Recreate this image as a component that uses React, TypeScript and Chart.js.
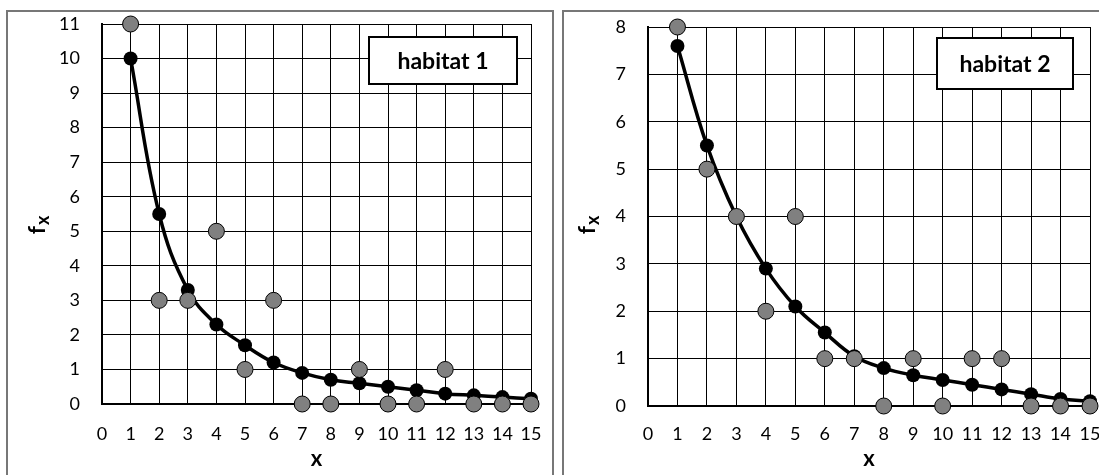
import React, { useEffect, useRef } from "react";
import { Chart, registerables } from "chart.js";

Chart.register(...registerables);

// ---------- data ----------
const xValues = [1, 2, 3, 4, 5, 6, 7, 8, 9, 10, 11, 12, 13, 14, 15];
const xTickLabels = ["0", "1", "2", "3", "4", "5", "6", "7", "8", "9", "10", "11", "12", "13", "14", "15"];

const habitat1Observed = [11, 3, 3, 5, 1, 3, 0, 0, 1, 0, 0, 1, 0, 0, 0];
const habitat1Fitted = [10, 5.5, 3.3, 2.3, 1.7, 1.2, 0.9, 0.7, 0.6, 0.5, 0.4, 0.3, 0.25, 0.2, 0.15];
const habitat1YMax = 11;

const habitat2Observed = [8, 5, 4, 2, 4, 1, 1, 0, 1, 0, 1, 1, 0, 0, 0];
const habitat2Fitted = [7.6, 5.5, 4.0, 2.9, 2.1, 1.55, 1.05, 0.8, 0.65, 0.55, 0.45, 0.35, 0.25, 0.15, 0.1];
const habitat2YMax = 8;

const panelLabels = ["habitat 1", "habitat 2"];
const xAxisTitle = "x";
const yAxisTitleMain = "f";
const yAxisTitleSub = "x";

const FONT = "Lato, 'Open Sans', sans-serif";

type PanelLayout = {
  left: number;
  top: number;
  width: number;
  height: number;
  yAxisWidth: number;
  xAxisHeight: number;
  padTop: number;
  padRight: number;
  xTickPad: number;
  yTickPad: number;
  box: { x: number; y: number; w: number; h: number };
  fx: { x: number; y: number };
};

const overlayPlugin = {
  id: "overlay",
  afterDraw(chart: any, _args: any, opts: any) {
    const ctx = chart.ctx as CanvasRenderingContext2D;
    ctx.save();
    const { x, y, w, h } = opts.box;
    ctx.fillStyle = "#fff";
    ctx.fillRect(x, y, w, h);
    ctx.lineWidth = 2;
    ctx.strokeStyle = "#000";
    ctx.strokeRect(x, y, w, h);
    ctx.fillStyle = "#000";
    ctx.font = `bold 23px ${FONT}`;
    ctx.textAlign = "center";
    ctx.textBaseline = "middle";
    ctx.fillText(opts.text, x + w / 2, y + h / 2 + 1);

    // y-axis title: f with subscript x, rotated
    ctx.translate(opts.fx.x, opts.fx.y);
    ctx.rotate(-Math.PI / 2);
    ctx.textAlign = "left";
    ctx.textBaseline = "alphabetic";
    ctx.font = `bold 23px ${FONT}`;
    const fw = ctx.measureText(opts.main).width;
    ctx.font = `bold 18px ${FONT}`;
    const sw = ctx.measureText(opts.sub).width;
    const start = -(fw + sw + 1) / 2;
    ctx.font = `bold 23px ${FONT}`;
    ctx.fillText(opts.main, start, 7);
    ctx.font = `bold 18px ${FONT}`;
    ctx.fillText(opts.sub, start + fw + 1, 11);
    ctx.restore();
  },
};

function Panel(props: {
  observed: number[];
  fitted: number[];
  yMax: number;
  label: string;
  layout: PanelLayout;
}) {
  const ref = useRef<HTMLCanvasElement | null>(null);
  const { observed, fitted, yMax, label, layout } = props;

  useEffect(() => {
    if (!ref.current) return;
    const tickFont = { family: FONT, size: 18 };
    const chart = new Chart(ref.current, {
      type: "scatter",
      data: {
        datasets: [
          {
            label: "observed",
            data: xValues.map((x, i) => ({ x, y: observed[i] })),
            backgroundColor: "#808080",
            borderColor: "#000",
            borderWidth: 1,
            pointRadius: 8,
            pointHoverRadius: 8,
            showLine: false,
            clip: false as any,
          },
          {
            label: "fitted",
            data: xValues.map((x, i) => ({ x, y: fitted[i] })),
            backgroundColor: "#000",
            borderColor: "#000",
            borderWidth: 3.5,
            pointRadius: 7,
            pointHoverRadius: 7,
            pointBorderWidth: 0,
            showLine: true,
            tension: 0.4,
            clip: false as any,
          },
        ],
      },
      options: {
        animation: false,
        responsive: false,
        events: [],
        layout: {
          padding: { left: 0, right: layout.padRight, top: layout.padTop, bottom: 0 },
        },
        plugins: {
          legend: { display: false },
          tooltip: { enabled: false },
          overlay: {
            box: layout.box,
            text: label,
            fx: layout.fx,
            main: yAxisTitleMain,
            sub: yAxisTitleSub,
          },
        } as any,
        scales: {
          x: {
            type: "linear",
            min: 0,
            max: 15,
            afterBuildTicks: (scale: any) => {
              scale.ticks = xTickLabels.map((t) => ({ value: Number(t) }));
            },
            ticks: {
              stepSize: 1,
              autoSkip: false,
              maxRotation: 0,
              padding: layout.xTickPad,
              color: "#000",
              font: tickFont,
              callback: (v: any) => String(v),
            },
            grid: { color: "#000", lineWidth: 1, drawTicks: false },
            border: { color: "#000", width: 2 },
            title: {
              display: true,
              text: xAxisTitle,
              color: "#000",
              font: { family: FONT, size: 22, weight: "bold" },
              padding: { top: 0, bottom: 3 },
            },
            afterFit: (scale: any) => {
              scale.height = layout.xAxisHeight;
              scale.paddingLeft = 0;
              scale.paddingRight = 0;
            },
          },
          y: {
            type: "linear",
            min: 0,
            max: yMax,
            ticks: {
              stepSize: 1,
              padding: layout.yTickPad,
              color: "#000",
              font: tickFont,
            },
            grid: { color: "#000", lineWidth: 1, drawTicks: false },
            border: { color: "#000", width: 2 },
            afterFit: (scale: any) => {
              scale.width = layout.yAxisWidth;
              scale.paddingTop = 0;
              scale.paddingBottom = 0;
            },
          },
        },
      },
      plugins: [overlayPlugin],
    } as any);
    return () => chart.destroy();
  }, [observed, fitted, yMax, label, layout]);

  return (
    <canvas
      ref={ref}
      width={layout.width}
      height={layout.height}
      style={{ position: "absolute", left: layout.left, top: layout.top, width: layout.width, height: layout.height }}
    />
  );
}

const layout1: PanelLayout = {
  left: 8,
  top: 12,
  width: 544,
  height: 463,
  yAxisWidth: 94,
  xAxisHeight: 71,
  padTop: 12,
  padRight: 21,
  xTickPad: 19,
  yTickPad: 22,
  box: { x: 361, y: 25, w: 148, h: 47 },
  fx: { x: 30, y: 213 },
};

const layout2: PanelLayout = {
  left: 565,
  top: 12,
  width: 534,
  height: 463,
  yAxisWidth: 83,
  xAxisHeight: 69,
  padTop: 15,
  padRight: 9,
  xTickPad: 17,
  yTickPad: 22,
  box: { x: 372, y: 26, w: 136, h: 51 },
  fx: { x: 23, y: 213 },
};

export default function App() {
  return (
    <div style={{ position: "fixed", left: 0, top: 0, width: 1099, height: 475, overflow: "hidden", background: "#fff" }}>
      <div
        style={{
          position: "absolute",
          left: 6,
          top: 10,
          width: 548,
          height: 500,
          border: "2px solid #777",
          boxSizing: "border-box",
        }}
      />
      <div
        style={{
          position: "absolute",
          left: 562,
          top: 10,
          width: 600,
          height: 500,
          border: "2px solid #777",
          boxSizing: "border-box",
        }}
      />
      <Panel observed={habitat1Observed} fitted={habitat1Fitted} yMax={habitat1YMax} label={panelLabels[0]} layout={layout1} />
      <Panel observed={habitat2Observed} fitted={habitat2Fitted} yMax={habitat2YMax} label={panelLabels[1]} layout={layout2} />
    </div>
  );
}
